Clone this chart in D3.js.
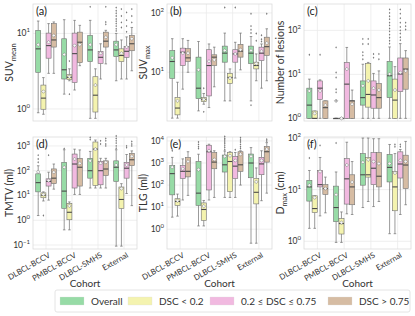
<!DOCTYPE html>
<html><head><meta charset="utf-8">
<script src="https://cdn.jsdelivr.net/npm/d3@7"></script>
<style>body{margin:0;background:#fff}svg{display:block}</style>
</head><body><svg id="c" width="415" height="316"></svg>
<script>
const cohorts = ["DLBCL-BCCV","PMBCL-BCCV","DLBCL-SMHS","External"];
const groups = ["Overall","DSC < 0.2","0.2 \u2264 DSC \u2264 0.75","DSC > 0.75"];
const groupColors = ["#97dba6","#f4f3af","#f1b9e0","#d6bca3"];
// stats per box: [whiskerLow, q1, median, q3, whiskerHigh, mean]; order cohort-major, group-minor
const suvMean = [
 [0.89,3.05,6.25,11,14.6,7.1],[0.85,0.99,1.39,2.07,2.6,1.7],[2.96,4.7,6.9,10.1,13.5,7.65],[2.96,6.6,8.2,13.5,14.2,9.4],
 [1.57,2.49,3.3,8.5,15.2,5.25],[2.36,2.44,2.62,2.84,3.4,2.67],[1.78,2.24,5.4,10.1,14.9,6.9],[3.74,4.1,7.65,10.4,12.8,7.1],
 [0.75,4.23,6.05,9.4,14.9,7.1],[0.75,0.91,1.52,2.67,3.4,2.07],[2.49,4.0,4.83,5.75,7.3,5.46],[3.95,6.6,7.9,10.4,11,8.9],
 [2.36,4.94,6.05,7.9,10,7.1],[2.49,4.23,5.1,6.25,8.2,5.46],[2.49,4.83,5.8,6.7,9,6.6],[3.2,5.9,7.3,9.4,12,8.5]];
const suvMeanOut = [[],[],[],[], [],[4.3,1.57],[],[], [22.5],[],[],[22.5,14.2,13.2],
 [22,20,18.5,17,15.5,14.5,13.5,12.5,11.5,10.8],[21,17,14,12],[19,15,12.5,10.5],[21,17,14]];
const suvMax = [
 [1.69,7.9,15.2,23.3,36.8,17.5],[1.69,1.92,2.5,3.77,6.8,3.3],[5.2,13,21.8,25.5,36.8,21],[10,15.2,17.5,25,34.4,21],
 [2.24,3.6,5.4,18,33,11],[2.9,3.2,3.5,3.77,4.4,3.5],[2.55,4.0,13,24,30,15.3],[5.7,13,18,19.7,26.5,16.2],
 [3.3,14.8,21,27.6,45.7,23.3],[3.3,6.5,8.2,9.6,11.4,8],[8,14.8,20.4,24,32,20.4],[11,18,22.7,29.5,45.7,24],
 [3.3,14,21,27.6,40,23.3],[7.2,11.4,13,14.8,20.4,14],[5.4,15.8,21,26.5,30,22.7],[7.2,19.2,27,39,54,31]];
const suvMaxOut = [[],[],[],[], [],[5.4,2.16],[],[], [123],[],[123],[],
 [97,60,52,46,2.8],[45,34],[42,36,33],[97]];
const lesions = [
 [1,1,2,4.86,7.8,4.2],[1,1,1,1.47,1.47,1.3],[1,2.7,4.86,7.1,7.5,4.2],[1,1,1.75,2.5,2.5,2.0],
 [1,1,1,1,1,2.5],[1,1,1,1,1,1],[1,1,6,18.7,41,13.2],[1,1,2.5,2.5,4.4,2.1],
 [1,2,2.96,7.1,17,5.5],[1,1.8,3.5,17.8,18.7,7.1],[1,1.7,3.4,7.1,10.5,4.86],[1,1.7,2.96,6.2,12,4.4],
 [1,2.96,9.3,19.8,42,10.2],[1,1,2.6,7.8,15,4.4],[1,4.06,10.2,23.6,50,11],[1,4.6,13.2,23.6,34.7,12]];
const lesionsOut = [[28],[],[28],[], [41,11,8.5,4.6,3.9,2.5],[],[],[], [64,49,32,27,22],[64,49],[29,24],[29,22],
 [300,250,210,180,150,130,110,95,80,68,58,50],[],[300,240,190,150,120,100,85,70,60],[150,125,105]];
const tmtv = [
 [1.55,14,33,75,158,90],[6,8.1,10.3,12.8,14,10.9],[6.5,24,37,47,87,40],[18,30,50,118,186,87],
 [0.41,3.0,15,218,700,137],[0.41,1.05,2.1,4.8,5.5,3.8],[11,20,186,470,740,295],[11,24,138,316,690,198],
 [20,50,100,316,600,250],[20,25.7,740,1440,1730,740],[20,27,100,240,316,200],[20,64,117,250,316,218],
 [0.09,37,138,250,700,170],[0.09,3.0,6.9,22,30,19],[12,50,126,218,450,170],[3.9,160,276,500,630,380]];
const tmtvOut = [[425,295,218],[1.55],[425],[], [780],[],[],[], [2200,1800],[],[1600,1200],[2000,1600,1200,1000],
 [2500,2000,1600,1300,1000,800],[],[1000,850],[1500,1200,1000]];
const tlg = [
 [3.5,36,330,775,1800,650],[3.9,12,18,24,39,19.5],[21,200,420,775,1540,550],[34,235,420,1800,3250,1170],
 [1.4,12,43,1170,2500,500],[1.4,2.5,7.8,15.5,20,11],[21,60,3250,6400,7100,3600],[27.5,550,1100,3000,3600,1440],
 [27.5,390,830,2300,3500,2000],[27.5,50,1170,3000,3250,2150],[27.5,200,720,2000,3000,1300],[100,420,830,3250,3600,2500],
 [0.23,215,1000,2550,5000,2000],[0.23,14,47,200,600,140],[19.5,295,910,1800,3600,1300],[43,1100,3250,5600,8400,4250]];
const tlgOut = [[3600],[],[],[], [9000,7000,5500,4500],[],[],[], [16000,13000,11000,9000,7500,6000,5000,4000],[],[4000],[14000,11000,9000,7000,5500,4500],
 [],[],[],[12000,10000]];
const dmax = [
 [1.78,6.0,11.3,15.1,23.5,12.2],[1.78,3.6,4.3,7.6,7.6,7.0],[3.1,11.3,12.5,23.5,42,22.4],[3.55,8.1,10.5,12.5,17.5,10.5],
 [0.95,2.4,4.5,11.7,22,8],[0.95,1.38,2.2,2.75,3.7,2.3],[3.4,5.25,16.2,40,83,30],[3.3,5.1,11.3,19.4,35,14],
 [4.5,12.2,19.4,50,100,34],[5.9,17.5,19.4,42,100,38],[4.7,12.5,26,52,97,35],[5.9,11.3,18.2,52,97,32],
 [1.4,14.1,27,48,75,32],[1.4,3.9,11.3,22.4,50,21],[3.3,16.8,31.4,54,60,37],[5.1,10.5,30,46.5,86,35]];
const dmaxOut = [[72,41],[],[72],[], [80],[],[],[], [],[],[],[], [],[75,68],[75,68],[]];
const panelLetters = ["(a)","(b)","(c)","(d)","(e)","(f)"];
const yTitles = [["SUV","mean"],["SUV","max"],["Number of lesions",""],["TMTV (ml)",""],["TLG (ml)",""],["D","max"," (cm)"]];
const yExtents = [[-0.16,1.39],[0.18,2.15],[-0.06,2.6],[-1.16,3.36],[-0.9,4.18],[-0.15,2.02]];
const xTitle = "Cohort";

const panels = [
 {stats:suvMean,out:suvMeanOut},{stats:suvMax,out:suvMaxOut},{stats:lesions,out:lesionsOut},
 {stats:tmtv,out:tmtvOut},{stats:tlg,out:tlgOut},{stats:dmax,out:dmaxOut}];

const svg = d3.select("#c");
const FONT = "Lato, 'DejaVu Sans', sans-serif";
const TXT = "#333";
const LINE = "#707070";
const colX = [[33,137],[167,272],[304,411]];
const rowY = [[4,121],[137,249]];

panels.forEach((p,i)=>{
  const [x0,x1] = colX[i%3], [y0,y1] = rowY[Math.floor(i/3)];
  const g = svg.append("g");
  const x = d3.scaleBand().domain(cohorts).range([x0,x1]);
  const bw = x.bandwidth();
  const xg = d3.scaleBand().domain(groups).range([bw*0.1,bw*0.9]);
  const y = d3.scaleLog().domain([10**yExtents[i][0],10**yExtents[i][1]]).range([y1,y0]);
  const decades = d3.range(Math.ceil(yExtents[i][0]), Math.floor(yExtents[i][1])+1);
  g.selectAll(".hg").data(decades).join("line")
   .attr("x1",x0).attr("x2",x1).attr("y1",d=>y(10**d)).attr("y2",d=>y(10**d))
   .attr("stroke","#ebebeb").attr("stroke-width",0.8);
  g.selectAll(".vg").data(cohorts).join("line")
   .attr("x1",d=>x(d)+bw/2).attr("x2",d=>x(d)+bw/2).attr("y1",y0).attr("y2",y1)
   .attr("stroke","#ebebeb").attr("stroke-width",0.8);
  g.append("rect").attr("x",x0).attr("y",y0).attr("width",x1-x0).attr("height",y1-y0)
   .attr("fill","none").attr("stroke","#dcdcdc").attr("stroke-width",0.8);
  const tl = g.selectAll(".tl").data(decades).join("text")
   .attr("x",x0-3).attr("y",d=>y(10**d)+3).attr("text-anchor","end")
   .attr("font-family",FONT).attr("font-size",8.5).attr("fill",TXT);
  tl.append("tspan").text("10");
  tl.append("tspan").attr("dy",-4).attr("font-size",6).text(d=>d<0?"\u2212"+(-d):d);
  const bxw = xg.bandwidth()*0.96;
  p.stats.forEach((s,k)=>{
    const c = cohorts[Math.floor(k/4)], gr = groups[k%4];
    const cx = x(c)+xg(gr)+xg.bandwidth()/2;
    const [lo,q1,md,q3,hi,mn] = s;
    const bg = g.append("g");
    bg.append("line").attr("x1",cx).attr("x2",cx).attr("y1",y(lo)).attr("y2",y(q1)).attr("stroke",LINE).attr("stroke-width",0.7);
    bg.append("line").attr("x1",cx).attr("x2",cx).attr("y1",y(q3)).attr("y2",y(hi)).attr("stroke",LINE).attr("stroke-width",0.7);
    [lo,hi].forEach(v=>bg.append("line").attr("x1",cx-bxw/4).attr("x2",cx+bxw/4).attr("y1",y(v)).attr("y2",y(v)).attr("stroke",LINE).attr("stroke-width",0.7));
    bg.append("rect").attr("x",cx-bxw/2).attr("width",bxw).attr("y",y(q3)).attr("height",Math.max(0.5,y(q1)-y(q3)))
      .attr("fill",groupColors[k%4]).attr("stroke",LINE).attr("stroke-width",0.6);
    bg.append("line").attr("x1",cx-bxw/2).attr("x2",cx+bxw/2).attr("y1",y(md)).attr("y2",y(md)).attr("stroke","#4a4a4a").attr("stroke-width",1.1);
    bg.append("path").attr("d",`M${cx},${y(mn)-1.8}L${cx+1.8},${y(mn)}L${cx},${y(mn)+1.8}L${cx-1.8},${y(mn)}Z`)
      .attr("fill","#f4f4f4").attr("stroke","#777").attr("stroke-width",0.5);
    p.out[k].forEach(v=>{
      bg.append("path").attr("d",`M${cx},${y(v)-1.2}L${cx+0.8},${y(v)}L${cx},${y(v)+1.2}L${cx-0.8},${y(v)}Z`).attr("fill","#777");
    });
  });
  g.append("text").attr("x",x0+3).attr("y",y0+11).attr("font-family",FONT).attr("font-size",11).attr("fill","#222").text(panelLetters[i]);
  const yt = g.append("text").attr("transform",`translate(${x0-20},${(y0+y1)/2}) rotate(-90)`)
   .attr("text-anchor","middle").attr("font-family",FONT).attr("font-size",10.5).attr("fill",TXT);
  const t = yTitles[i];
  yt.append("tspan").text(t[0]);
  if(t[1]){ yt.append("tspan").attr("font-size",7.5).attr("dy",2.5).text(t[1]);
    if(t[2]) yt.append("tspan").attr("dy",-2.5).text(t[2]); }
  if(i>=3){
    g.selectAll(".xl").data(cohorts).join("text")
     .attr("transform",d=>`translate(${x(d)+bw/2+2},${y1+3}) rotate(-30)`)
     .attr("text-anchor","end").attr("dy","0.7em").attr("font-family",FONT).attr("font-size",7.8).attr("fill",TXT).text(d=>d);
    g.append("text").attr("x",(x0+x1)/2).attr("y",287).attr("text-anchor","middle")
     .attr("font-family",FONT).attr("font-size",10).attr("fill",TXT).text(xTitle);
  }
});
const lg = svg.append("g");
lg.append("rect").attr("x",55).attr("y",290).attr("width",355).attr("height",22).attr("rx",2)
  .attr("fill","#fff").attr("stroke","#ddd").attr("stroke-width",0.8);
const legX = [60,128,210,328];
groups.forEach((gname,k)=>{
  lg.append("rect").attr("x",legX[k]).attr("y",297).attr("width",24).attr("height",8).attr("fill",groupColors[k]).attr("stroke","#ddd").attr("stroke-width",0.3);
  lg.append("text").attr("x",legX[k]+31).attr("y",304.5).attr("font-family",FONT).attr("font-size",10).attr("fill",TXT).text(gname);
});
</script></body></html>
